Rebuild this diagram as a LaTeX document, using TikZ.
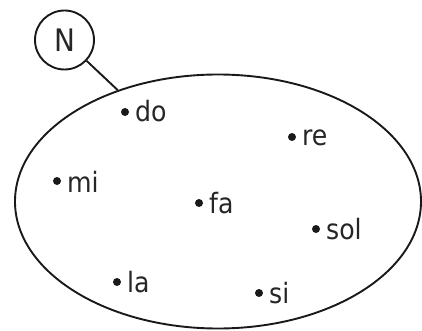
\documentclass[tikz,border=0pt]{standalone}
\usepackage{fontspec}
\setmainfont{DejaVu Sans Condensed}
\usetikzlibrary{shapes.geometric}
\begin{document}
\begin{tikzpicture}[x=1pt,y=-1pt,
  line/.style={line width=1.9pt, black!90},
  dotmark/.style={circle, fill=black!90, inner sep=0pt, minimum size=8pt},
  lab/.style={anchor=base west, inner sep=0pt, font=\fontsize{28}{28}\selectfont, text=black!85}]
\useasboundingbox (0,0) rectangle (422,331);
\node[draw, line, ellipse, inner sep=0pt, minimum width=406pt, minimum height=254pt] (E) at (218,201.5) {};
\node[draw, line, circle, inner sep=0pt, minimum size=59pt, font=\fontsize{31}{31}\selectfont, text=black!85] (N) at (64.5,40) {N};
\draw[line] (N) -- (E.132);
\foreach \nm/\x/\y/\b in {do/125/112/122, re/292/137/146, mi/57/181/192, fa/199/203/213, sol/316/229/239, la/117/282/292, si/259/293/303}{
  \node[dotmark] (d\nm) at (\x,\y) {};
  \node[lab] (t\nm) at (\x+10,\b) {\nm};
}
\end{tikzpicture}
\end{document}
